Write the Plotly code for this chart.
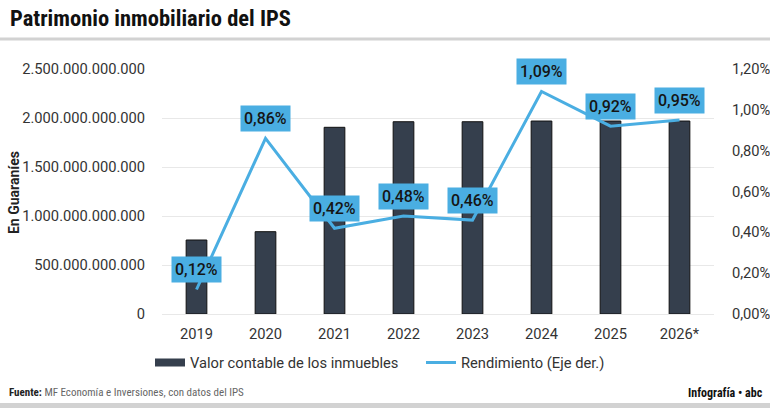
import plotly.graph_objects as go

years = ["2019", "2020", "2021", "2022", "2023", "2024", "2025", "2026*"]
valor_inmuebles = [755e9, 840e9, 1905e9, 1962e9, 1962e9, 1969e9, 1969e9, 1969e9]
rendimiento = [0.12, 0.86, 0.42, 0.48, 0.46, 1.09, 0.92, 0.95]
left_ticks = [0, 500e9, 1000e9, 1500e9, 2000e9, 2500e9]
right_ticks = [0, 0.2, 0.4, 0.6, 0.8, 1.0, 1.2]

W, H = 770, 408
L, R, T, B = 162, 714, 69, 314

def px(x):
    return (x - L) / (R - L)

def py(y):
    return (B - y) / (B - T)

def fmt_thousands(v):
    return f"{int(v):,}".replace(",", ".")

def fmt_pct(v):
    return f"{v:.2f}".replace(".", ",") + "%"

idx = list(range(len(years)))

BAR = "#353f4d"
LINE = "#4aaee2"
FONT = "Roboto, sans-serif"
COND = "'Roboto Condensed', 'Liberation Sans Narrow', 'Arial Narrow', Roboto, sans-serif"
TS = 14.7

fig = go.Figure()
fig.add_trace(go.Bar(
    x=idx, y=valor_inmuebles, name="Valor contable de los inmuebles",
    marker=dict(color=BAR, line=dict(color="#111111", width=1)),
    width=0.3, yaxis="y", showlegend=False,
))
fig.add_trace(go.Scatter(
    x=[None], y=[None], name="Valor contable de los inmuebles",
    mode="lines", line=dict(color=BAR, width=8), yaxis="y", showlegend=True,
    legend="legend",
))
fig.add_trace(go.Scatter(
    x=idx, y=rendimiento, name="Rendimiento (Eje der.)",
    mode="lines", line=dict(color=LINE, width=3), yaxis="y2", legend="legend2",
))

annotations = []
for i, v in zip(idx, rendimiento):
    annotations.append(dict(
        x=i, y=v, xref="x", yref="y2", text=fmt_pct(v),
        showarrow=False, yshift=20, bgcolor=LINE, borderpad=3,
        font=dict(family=FONT, size=16, color="#151515", weight=500),
    ))

annotations.append(dict(
    x=px(8), y=py(18), xref="paper", yref="paper", xanchor="left", yanchor="middle",
    text="<b>Patrimonio inmobiliario del IPS</b>", showarrow=False,
    font=dict(family=COND, size=22.5, color="#111111"),
))
annotations.append(dict(
    x=px(14), y=py(193), xref="paper", yref="paper", xanchor="center", yanchor="middle",
    text="<b>En Guaraníes</b>", showarrow=False, textangle=-90,
    font=dict(family=FONT, size=14, color="#222222"),
))
annotations.append(dict(
    x=px(7), y=py(393), xref="paper", yref="paper", xanchor="left", yanchor="middle",
    text="<b><span style='color:#222222'>Fuente:</span></b> MF Economía e Inversiones, con datos del IPS",
    showarrow=False,
    font=dict(family=COND, size=11, color="#666666"),
))
annotations.append(dict(
    x=px(765), y=py(393), xref="paper", yref="paper", xanchor="right", yanchor="middle",
    text="<b>Infografía • abc</b>", showarrow=False,
    font=dict(family=COND, size=12, color="#111111"),
))

shapes = [
    dict(type="line", xref="paper", yref="paper", x0=px(0), x1=px(770), y0=py(39), y1=py(39),
         line=dict(color="#d2d2d2", width=3)),
    dict(type="rect", xref="paper", yref="paper", x0=px(0), x1=px(770), y0=py(403), y1=py(410),
         line=dict(width=0), fillcolor="#d2d2d2"),
]

leg_common = dict(orientation="h", xref="container", yref="container",
                  y=1 - 363 / H, xanchor="left", yanchor="middle",
                  font=dict(family=FONT, size=TS, color="#333333"),
                  bgcolor="rgba(0,0,0,0)")

fig.update_layout(
    width=W, height=H,
    margin=dict(l=L, r=W - R, t=T, b=H - B, pad=0, autoexpand=False),
    paper_bgcolor="white", plot_bgcolor="white",
    font=dict(family=FONT, size=TS, color="#333333"),
    showlegend=True,
    legend=dict(x=150 / W, **leg_common),
    legend2=dict(x=421 / W, **leg_common),
    xaxis=dict(range=[-0.5, len(years) - 0.5], tickvals=idx, ticktext=years,
               showgrid=False, zeroline=False, ticks="outside", ticklen=6,
               tickcolor="rgba(0,0,0,0)", tickfont=dict(size=TS, color="#333333"),
               showline=False, automargin=False),
    yaxis=dict(range=[0, 2.5e12], tickvals=left_ticks,
               ticktext=[fmt_thousands(v) for v in left_ticks],
               showgrid=True, gridcolor="#e8e8e8", gridwidth=1,
               zeroline=True, zerolinecolor="#e8e8e8", zerolinewidth=1,
               ticks="outside", ticklen=13, tickcolor="rgba(0,0,0,0)",
               tickfont=dict(size=TS, color="#333333"), automargin=False),
    yaxis2=dict(range=[0, 1.2], overlaying="y", side="right", tickvals=right_ticks,
                ticktext=[fmt_pct(v) for v in right_ticks], showgrid=False, zeroline=False,
                ticks="outside", ticklen=14, tickcolor="rgba(0,0,0,0)",
                tickfont=dict(size=TS, color="#333333"), automargin=False),
    annotations=annotations, shapes=shapes,
)

fig.write_html("out.html")
